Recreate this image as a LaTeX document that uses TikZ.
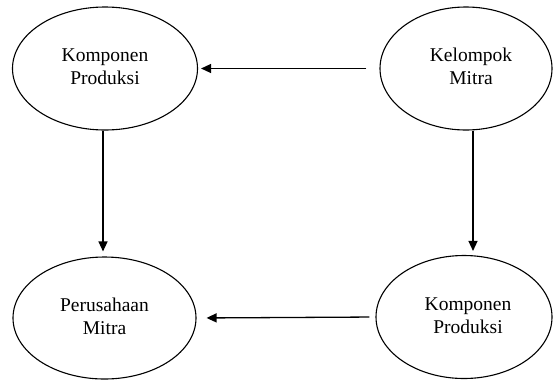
\documentclass[tikz,border=0pt]{standalone}
\usepackage{fontspec}
\setmainfont{Liberation Serif}
\usetikzlibrary{shapes.geometric,arrows.meta,calc}
% two centred lines, lifted a little above the ellipse centre
\newcommand{\twolines}[3][0pt]{\raisebox{4pt}{\hspace*{#1}\begin{tabular}{@{}c@{}}#2\\#3\end{tabular}}}
\begin{document}
\begin{tikzpicture}[x=1pt,y=-1pt,
  entity/.style={ellipse,draw,line width=1.1pt,inner sep=0pt,
    font=\fontsize{19.5}{23}\selectfont},
  arr/.style={line width=1.3pt,-{Triangle[length=10pt,width=9pt]}}]
\useasboundingbox (0,0) rectangle (553,381);
\node[entity,minimum width=185pt,minimum height=123pt] (kp1) at (105,68.5) {\twolines{Komponen}{Produksi}};
\node[entity,minimum width=172pt,minimum height=123pt] (km) at (466,68.5) {\twolines[10pt]{Kelompok}{Mitra}};
\node[entity,minimum width=183pt,minimum height=122pt] (pm) at (104.5,318) {\twolines{Perusahaan}{Mitra}};
\node[entity,minimum width=176pt,minimum height=123pt] (kp2) at (464,317) {\twolines[8pt]{Komponen}{Produksi}};
\draw[arr,shorten <=13pt,shorten >=3pt] (km.west) -- (kp1.east);
\draw[arr,shorten >=5pt] (kp1.south -| 103,0) -- (pm.north -| 103,0);
\draw[arr,shorten >=4pt] ($(km.south)+(7,0)$) -- ($(kp2.north)+(9,0)$);
\draw[arr,shorten <=6pt,shorten >=10pt] (kp2.west) -- (pm.east);
\end{tikzpicture}
\end{document}
